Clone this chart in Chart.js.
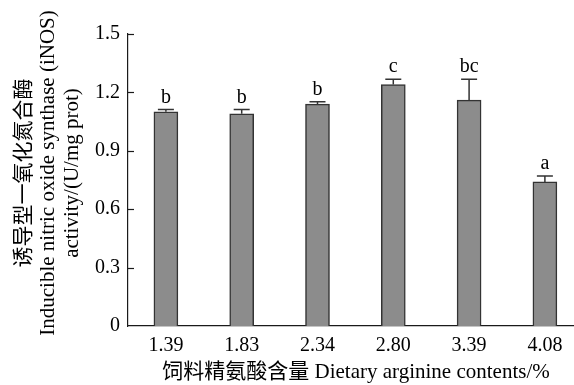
<!DOCTYPE html>
<html>
<head>
<meta charset="utf-8">
<script src="https://cdn.jsdelivr.net/npm/chart.js@4"></script>
<style>
html,body{margin:0;padding:0;background:#fff;}
#wrap{width:574px;height:385px;}
</style>
</head>
<body>
<div id="wrap"><canvas id="c" width="574" height="385"></canvas></div>
<script>
const categories = ['1.39', '1.83', '2.34', '2.80', '3.39', '4.08'];
const means = [1.10, 1.09, 1.14, 1.24, 1.16, 0.74];
const errors = [0.012, 0.022, 0.012, 0.028, 0.108, 0.03];
const letters = ['b', 'b', 'b', 'c', 'bc', 'a'];
const yTickValues = [0, 0.3, 0.6, 0.9, 1.2, 1.5];
const yTickLabels = ['0', '0.3', '0.6', '0.9', '1.2', '1.5'];
const yTitleLines = ['诱导型一氧化氮合酶', 'Inducible nitric oxide synthase (iNOS)', 'activity/(U/mg prot)'];
const xTitle = '饲料精氨酸含量 Dietary arginine contents/%';

const SERIF = "'Liberation Serif', 'Times New Roman', 'Noto Sans CJK SC', serif";
const AXIS = '#1a1a1a';

const overlay = {
  id: 'overlay',
  afterDatasetsDraw(chart) {
    const ctx = chart.ctx;
    const xs = chart.scales.x, ys = chart.scales.y;
    ctx.save();
    ctx.strokeStyle = '#333';
    ctx.lineWidth = 1.5;
    ctx.fillStyle = '#000';
    ctx.font = '20px ' + SERIF;
    ctx.textAlign = 'center';
    ctx.textBaseline = 'alphabetic';
    means.forEach((m, i) => {
      const x = xs.getPixelForValue(i);
      const yTop = ys.getPixelForValue(m + errors[i]);
      const yM = ys.getPixelForValue(m);
      ctx.beginPath();
      ctx.moveTo(x, yM);
      ctx.lineTo(x, yTop);
      ctx.moveTo(x - 8, yTop);
      ctx.lineTo(x + 8, yTop);
      ctx.stroke();
      ctx.fillText(letters[i], x, yTop - 7);
    });
    ctx.strokeStyle = AXIS;
    ctx.lineWidth = 1.2;
    yTickValues.forEach(v => {
      if (v === 0) return;
      const y = Math.round(ys.getPixelForValue(v)) + 0.5;
      ctx.beginPath();
      ctx.moveTo(xs.left, y);
      ctx.lineTo(xs.left + 6, y);
      ctx.stroke();
    });
    ctx.fillStyle = '#000';
    ctx.font = '21px ' + SERIF;
    ctx.textAlign = 'center';
    ctx.textBaseline = 'middle';
    ctx.fillText(xTitle, 356, 372);
    const cy = 173;
    const xsPos = [24, 48, 72];
    yTitleLines.forEach((t, k) => {
      ctx.save();
      ctx.translate(xsPos[k], cy);
      ctx.rotate(-Math.PI / 2);
      ctx.fillText(t, 0, 0);
      ctx.restore();
    });
    ctx.restore();
  }
};

new Chart(document.getElementById('c'), {
  type: 'bar',
  data: {
    datasets: [{
      data: means.map((m, i) => ({ x: i, y: m })),
      backgroundColor: '#8c8c8c',
      borderColor: '#333',
      borderWidth: 1.5,
      barThickness: 24
    }]
  },
  options: {
    responsive: false,
    animation: false,
    events: [],
    layout: { padding: { top: 34, right: 0, left: 0, bottom: 0 } },
    plugins: { legend: { display: false }, tooltip: { enabled: false }, title: { display: false } },
    scales: {
      x: {
        type: 'linear',
        offset: false,
        min: -0.5,
        max: 5.384,
        afterBuildTicks: (s) => { s.ticks = categories.map((c, i) => ({ value: i })); },
        afterFit: (s) => { s.height = 59; },
        grid: { display: false, drawTicks: false, offset: false },
        border: { display: true, color: AXIS, width: 1.2 },
        ticks: {
          callback: (v) => categories[v],
          font: { family: SERIF, size: 20 },
          color: '#000',
          padding: 8,
          maxRotation: 0,
          autoSkip: false
        }
      },
      y: {
        min: 0,
        max: 1.5,
        afterBuildTicks: (s) => { s.ticks = yTickValues.map(v => ({ value: v })); },
        afterFit: (s) => { s.width = 128; },
        grid: { display: false, drawTicks: false },
        border: { display: true, color: AXIS, width: 1.2 },
        ticks: {
          callback: (v) => yTickLabels[yTickValues.indexOf(v)],
          font: { family: SERIF, size: 20 },
          color: '#000',
          padding: 8
        }
      }
    }
  },
  plugins: [overlay]
});
</script>
</body>
</html>
